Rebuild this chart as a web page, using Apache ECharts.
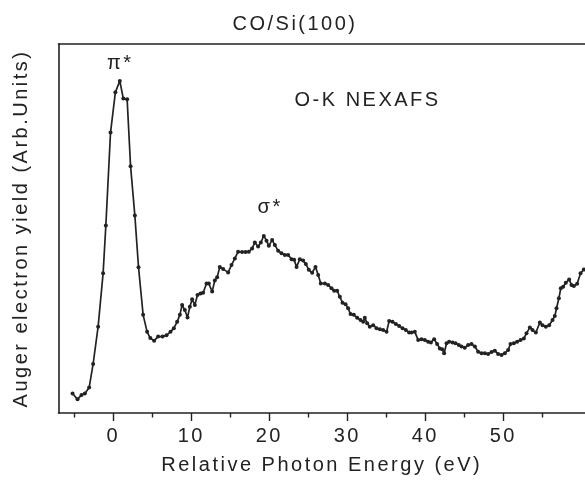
<!DOCTYPE html>
<html>
<head>
<meta charset="utf-8">
<script src="https://cdn.jsdelivr.net/npm/echarts@6/dist/echarts.min.js"></script>
<style>
  html, body { margin: 0; padding: 0; background: #fff; }
  #chart { width: 585px; height: 487px; }
</style>
</head>
<body>
<div id="chart"></div>
<script>
// Relative photon energy (eV)
const energy = [
  -5.23,-4.59,-4.08,-3.65,-3.10,-2.59,-1.95,-1.31,-0.96,-0.36,
  0.26,0.83,1.28,1.77,2.21,2.76,3.23,3.82,4.33,4.74,
  5.23,5.74,6.31,6.82,7.33,7.76,8.18,8.53,8.82,9.17,
  9.51,9.81,10.10,10.45,10.79,11.18,11.51,11.95,12.24,12.67,
  13.01,13.31,13.65,14.08,14.72,15.15,15.58,16.00,
  16.51,16.95,17.37,17.79,18.14,18.56,18.91,19.29,19.64,19.94,
  20.36,20.71,21.13,21.56,21.99,22.41,22.85,23.18,23.49,23.91,
  24.33,24.68,25.06,25.49,25.92,26.26,26.60,
  27.12,27.54,27.97,28.31,28.69,29.04,29.38,29.77,30.10,30.41,
  30.83,31.26,31.69,32.03,32.24,32.54,32.88,33.31,33.74,34.17,
  34.59,35.03,35.36,35.79,36.22,36.64,37.08,37.50,37.92,
  38.23,38.65,39.08,39.51,39.94,40.36,40.71,41.13,41.51,41.86,
  42.15,42.41,42.72,43.05,43.49,43.87,44.29,44.64,45.06,45.49,
  45.92,46.35,46.77,47.21,47.63,48.05,48.49,48.91,49.33,49.77,
  50.19,50.62,50.92,51.35,51.77,52.21,52.63,52.97,53.40,53.74,
  54.17,54.68,55.03,55.45,55.87,56.31,56.60,56.82,57.12,57.37,
  57.67,58.01,58.44,58.74,59.04,59.46,59.90,60.32
];
// Auger electron yield (arb. units)
const augerYield = [
  5.3,3.7,4.9,5.3,6.9,13.3,23.4,37.9,50.8,76.0,
  86.9,90.0,85.2,85.0,66.9,53.5,39.5,26.6,22.0,20.3,
  19.6,20.7,20.7,21.1,22.0,23.0,24.7,26.6,29.3,27.9,
  25.9,28.8,30.8,29.3,32.0,32.4,32.6,35.1,35.1,32.9,
  35.9,36.8,39.6,39.0,38.1,40.1,41.9,43.7,
  43.6,43.6,43.7,44.6,46.2,45.1,46.2,48.0,46.7,45.3,
  46.9,45.5,44.0,43.3,42.8,42.8,41.7,41.5,39.6,41.7,
  41.3,40.4,38.8,38.0,39.6,37.4,35.1,
  35.1,34.7,33.8,33.1,33.1,31.5,29.9,29.5,28.4,26.8,
  26.6,25.8,25.2,24.7,25.8,24.3,23.4,23.8,23.0,22.7,
  22.5,22.0,24.9,24.7,24.1,23.6,23.0,22.5,21.8,
  21.8,22.0,19.8,20.0,19.8,19.3,19.1,20.0,18.7,17.5,
  17.3,16.2,18.9,19.3,19.1,18.9,18.4,18.0,17.7,18.4,
  18.7,18.0,16.6,16.2,16.2,16.0,16.5,16.9,16.0,15.7,
  16.2,17.1,18.7,18.9,19.3,19.8,20.2,21.6,23.2,22.5,
  21.8,24.5,23.8,23.4,23.8,25.2,26.3,28.4,31.1,33.8,
  34.2,35.3,36.2,34.7,34.4,35.0,37.9,38.9
];
const majorTicks = [0, 10, 20, 30, 40, 50];
const minorTicks = [-5, 5, 15, 25, 35, 45, 55];
const annotations = [
  { name: 'π*', coord: [0.9, 94.6] },
  { name: 'σ*', coord: [20.1, 55.6] },
  { name: 'O-K NEXAFS', coord: [32.6, 84.6] }
];

// Wide tracking like the original typesetting (canvas letter spacing)
(function () {
  const proto = CanvasRenderingContext2D.prototype;
  const origFill = proto.fillText;
  proto.fillText = function () {
    if ('letterSpacing' in this) this.letterSpacing = '2.5px';
    return origFill.apply(this, arguments);
  };
})();

const FONT = '"Liberation Sans", Arial, Helvetica, sans-serif';
const INK = '#222222';
const X_MIN = -7.03, X_MAX = 60.47, Y_MIN = 0, Y_MAX = 100;

const chart = echarts.init(document.getElementById('chart'), null, { renderer: 'canvas' });
const seriesData = energy.map((e, i) => [e, augerYield[i]]);

chart.setOption({
  animation: false,
  backgroundColor: '#fff',
  title: {
    text: 'CO/Si(100)',
    left: 290,
    textAlign: 'center',
    top: 9,
    textStyle: { fontFamily: FONT, fontSize: 20, fontWeight: 'normal', color: INK }
  },
  grid: { left: 58.5, right: 0, top: 44, bottom: 74, containLabel: false },
  xAxis: [
    {
      type: 'value', position: 'bottom', min: X_MIN, max: X_MAX,
      axisLine: { show: true, onZero: false, lineStyle: { color: INK, width: 1.6 } },
      axisTick: { show: true, inside: false, length: 8, customValues: majorTicks, lineStyle: { color: INK, width: 1.4 } },
      axisLabel: { show: true, customValues: majorTicks, margin: 13, fontFamily: FONT, fontSize: 20, color: INK },
      splitLine: { show: false },
      name: 'Relative Photon Energy (eV)',
      nameLocation: 'middle',
      nameGap: 42,
      nameTextStyle: { fontFamily: FONT, fontSize: 20, color: INK }
    },
    {
      type: 'value', position: 'bottom', min: X_MIN, max: X_MAX,
      axisLine: { show: false, onZero: false },
      axisTick: { show: true, inside: false, length: 4.5, customValues: minorTicks, lineStyle: { color: INK, width: 1.4 } },
      axisLabel: { show: false },
      splitLine: { show: false }
    },
    {
      type: 'value', position: 'top', min: X_MIN, max: X_MAX,
      axisLine: { show: true, onZero: false, lineStyle: { color: INK, width: 1.6 } },
      axisTick: { show: false },
      axisLabel: { show: false },
      splitLine: { show: false }
    }
  ],
  yAxis: {
    type: 'value', min: Y_MIN, max: Y_MAX, position: 'left',
    axisLine: { show: true, onZero: false, lineStyle: { color: INK, width: 1.6 } },
    axisTick: { show: false },
    axisLabel: { show: false },
    splitLine: { show: false },
    name: 'Auger electron yield (Arb.Units)',
    nameLocation: 'middle',
    nameGap: 27,
    nameTextStyle: { fontFamily: FONT, fontSize: 20, color: INK }
  },
  series: [
    {
      type: 'line',
      xAxisIndex: 0,
      data: seriesData,
      symbol: 'circle',
      symbolSize: 4,
      showSymbol: true,
      itemStyle: { color: INK },
      lineStyle: { color: INK, width: 1.7 },
      markPoint: {
        symbol: 'circle',
        symbolSize: 0,
        label: { show: true, position: 'inside', fontFamily: FONT, fontSize: 20, color: INK, formatter: p => p.name },
        data: annotations.map(a => ({ name: a.name, coord: a.coord }))
      }
    }
  ]
});
</script>
</body>
</html>
